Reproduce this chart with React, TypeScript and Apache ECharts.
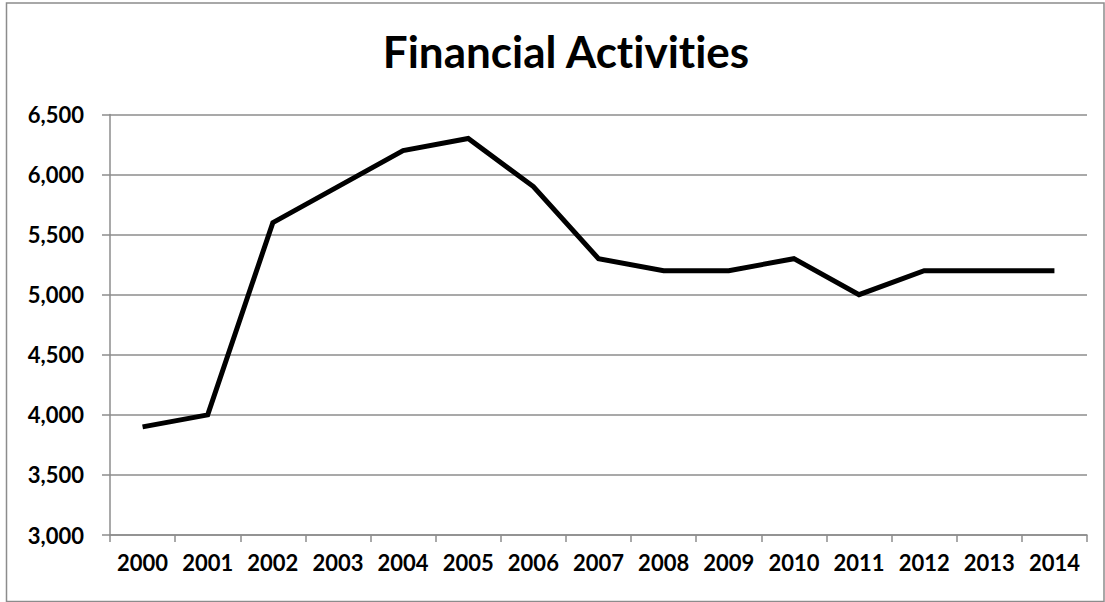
import React, { useEffect, useRef } from "react";
import * as echarts from "echarts";

const categories = ["2000","2001","2002","2003","2004","2005","2006","2007","2008","2009","2010","2011","2012","2013","2014"];
const values = [3900,4000,5600,5900,6200,6300,5900,5300,5200,5200,5300,5000,5200,5200,5200];
const titleText = "Financial Activities";

export default function App() {
  const ref = useRef<HTMLDivElement>(null);
  useEffect(() => {
    document.body.style.margin = "0";
    const chart = echarts.init(ref.current!, null, { renderer: "svg" });
    const font = "Lato, 'Open Sans', sans-serif";
    chart.setOption({
      animation: false,
      backgroundColor: "#ffffff",
      title: {
        text: titleText,
        left: 561,
        textAlign: "center",
        top: 24,
        textStyle: { fontFamily: font, fontWeight: "bold", fontSize: 44, color: "#000" },
      },
      graphic: [
        {
          type: "rect",
          shape: { x: 6.5, y: 3, width: 1097.5, height: 598.5 },
          style: { fill: "none", stroke: "#8c8c8c", lineWidth: 1.5 },
          silent: true,
        },
      ],
      grid: { left: 110, right: 18, top: 114.5, bottom: 67, containLabel: false },
      xAxis: {
        type: "category",
        data: categories,
        boundaryGap: true,
        axisLine: { show: true, lineStyle: { color: "#8c8c8c", width: 1.5 } },
        axisTick: { show: true, length: 7, alignWithLabel: false, lineStyle: { color: "#8c8c8c", width: 1.5 } },
        axisLabel: { fontFamily: font, fontWeight: "bold", fontSize: 22, color: "#000", margin: 16, interval: 0 },
        splitLine: { show: false },
      },
      yAxis: {
        type: "value",
        min: 3000,
        max: 6500,
        interval: 500,
        axisLine: { show: true, lineStyle: { color: "#8c8c8c", width: 1.5 } },
        axisTick: { show: true, length: 8, lineStyle: { color: "#8c8c8c", width: 1.5 } },
        axisLabel: {
          fontFamily: font, fontWeight: "bold", fontSize: 22, color: "#000", margin: 26,
          formatter: (v: number) => v.toLocaleString("en-US"),
        },
        splitLine: { show: true, lineStyle: { color: "#8c8c8c", width: 1.5 } },
      },
      series: [
        {
          type: "line",
          data: values,
          showSymbol: false,
          symbol: "none",
          lineStyle: { color: "#000", width: 5, join: "miter" },
          itemStyle: { color: "#000" },
        },
      ],
    });
    return () => chart.dispose();
  }, []);
  return <div ref={ref} style={{ width: 1105, height: 602, fontVariantLigatures: "none" }} />;
}
